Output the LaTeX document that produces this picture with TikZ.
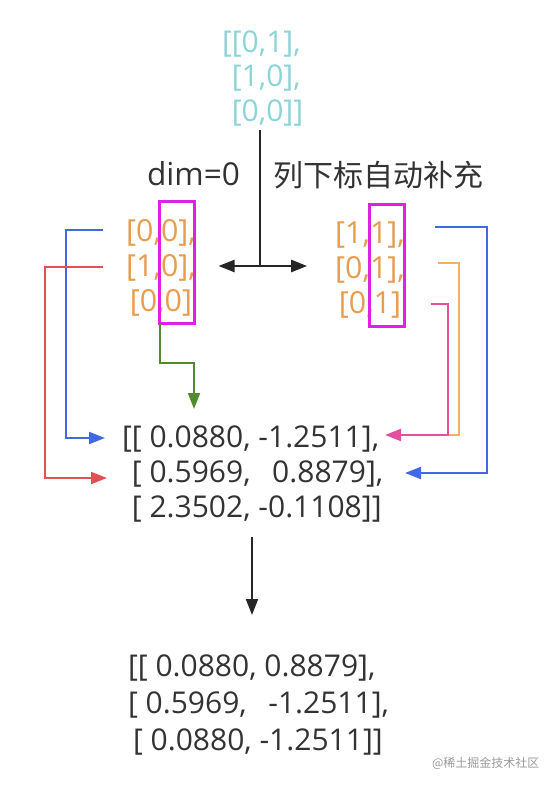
\documentclass[tikz,border=0pt]{standalone}
\usepackage{fontspec}
\setmainfont{Open Sans}
\newfontfamily\cjkfont{Noto Sans CJK SC}
\usetikzlibrary{arrows.meta,positioning,calc}

\definecolor{txtgray}{RGB}{51,51,51}
\definecolor{srccyan}{RGB}{138,213,213}
\definecolor{idxorange}{RGB}{232,156,80}
\definecolor{boxmag}{RGB}{224,32,230}
\definecolor{lnblue}{RGB}{65,105,225}
\definecolor{lnred}{RGB}{224,82,82}
\definecolor{lngreen}{RGB}{80,140,45}
\definecolor{lnorange}{RGB}{240,176,112}
\definecolor{lnpink}{RGB}{228,80,160}

\begin{document}
\begin{tikzpicture}[
  x=0.5pt, y=-0.5pt,
  every node/.style={inner sep=0pt, outer sep=0pt},
  tensor/.style={font=\fontsize{15}{17.5}\selectfont, text=txtgray, align=left, anchor=base west},
  index/.style={font=\fontsize{15.2}{17.5}\selectfont, text=idxorange, align=center, anchor=base},
  note/.style={font=\fontsize{15.8}{18}\selectfont, text=txtgray, anchor=base west},
  colbox/.style={draw=boxmag, line width=1.5pt, minimum width=17.5pt, minimum height=61pt},
  tip/.style={-{Triangle[length=8pt, width=6pt]}},
  link/.style={tip, line width=1pt},
  stem/.style={line width=1.4pt, draw=black!85},
]
\useasboundingbox (0,0) rectangle (556,787);

% source tensor (anchored on its last line)
\node[tensor, text=srccyan, font=\fontsize{15}{17.25}\selectfont] (src) at (222,121)
  {[[0,1],\\\phantom{[}[1,0],\\\phantom{[}[0,0]]};

% annotation
\node[note] (dim) at (147,185) {dim=0};
\node[note, font=\fontsize{15}{18}\cjkfont] (fill) at (273,186) {列下标自动补充};

% index tensors
\node[index] (lidx) at (161,311) {[0,0],\\{}[1,0],\\{}[0,0]};
\node[index] (ridx) at (370,313) {[1,1],\\{}[0,1],\\{}[0,1]};
\node[colbox] (lbox) at (177,262) {};
\node[colbox] (rbox) at (386.5,265.5) {};

% gathered values
\node[tensor] (mid) at (122,517)
  {[[ 0.0880, -1.2511],\\\phantom{[}[ 0.5969,\hspace{0.72em}0.8879],\\\phantom{[}[ 2.3502, -0.1108]]};
\node[tensor, font=\fontsize{15}{18.5}\selectfont] (out) at (128,750)
  {[[ 0.0880, 0.8879],\\{}[ 0.5969,\hspace{0.72em}-1.2511],\\\hspace{2.5pt}[ 0.0880, -1.2511]]};

\node[anchor=base west, font=\fontsize{6}{7}\cjkfont, text=black!40] (mark) at (432,767) {@稀土掘金技术社区};

% split
\coordinate (split) at (260,266);
\draw[stem] ([yshift=-2pt]src.south -| split) -- (split);
\draw[stem, tip, line width=1.2pt] (split) -- ([xshift=12pt]lbox.east |- split);
\draw[stem, tip, line width=1.2pt] (split) -- ([xshift=-14pt]ridx.west |- split);

% left links
\coordinate (bl-s) at (103,230);
\coordinate (bl-e) at (105,438);
\coordinate (rd-s) at (103,267);
\coordinate (rd-e) at (107,478);
\coordinate (gr-e) at (194,409);
\draw[link, color=lnblue] (bl-s) -- ++(-37,0) |- (bl-e);
\draw[link, color=lnred] (rd-s) -- ++(-58,0) |- (rd-e);
\draw[link, color=lngreen] (lbox.south west) -- ++(0,40) -| (gr-e);

% right links
\coordinate (rb-s) at (435,227);
\coordinate (rb-e) at (405,473);
\coordinate (ro-s) at (438,263);
\coordinate (pk-s) at (431,304);
\coordinate (pk-j) at (448,435);
\coordinate (pk-e) at (385,435);
\draw[link, color=lnblue] (rb-s) -- ++(52,0) |- (rb-e);
\draw[line width=1pt, color=lnorange] (ro-s) -- ++(21,0) |- (pk-j);
\draw[link, color=lnpink] (pk-s) -- ++(17,0) |- (pk-e);

% result
\coordinate (dn-s) at (252,537);
\coordinate (dn-e) at (252,615);
\draw[link, color=black!85] (dn-s) -- (dn-e);

\end{tikzpicture}
\end{document}
